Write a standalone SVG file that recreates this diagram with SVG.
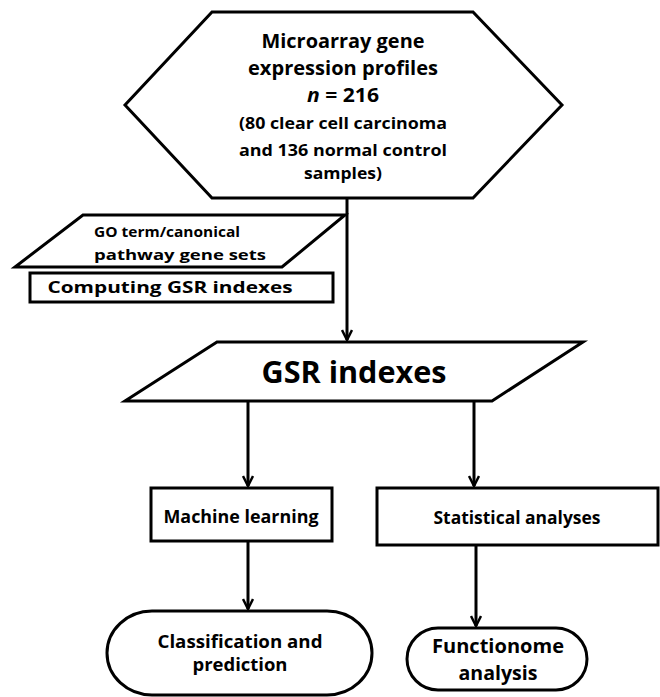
<svg xmlns="http://www.w3.org/2000/svg" width="660" height="697" viewBox="0 0 660 697">
<style>
.s{fill:#fff;stroke:#000;stroke-width:3;stroke-linejoin:miter}
.t{font-family:"Open Sans","Liberation Sans",sans-serif;font-weight:700;fill:#000;text-anchor:middle}
.c{stroke:#000;stroke-width:3;fill:none}
</style>
<defs>
<marker id="ah" viewBox="0 0 12 12" refX="11" refY="6" markerWidth="12" markerHeight="12" markerUnits="userSpaceOnUse" orient="auto">
<path d="M1,1 L11,6 L1,11" fill="none" stroke="#000" stroke-width="2.5"/>
</marker>
</defs>
<rect width="660" height="697" fill="#fff"/>
<g id="connectors">
<line class="c" x1="347" y1="198" x2="347" y2="340" marker-end="url(#ah)"/>
<line class="c" x1="248" y1="401" x2="248" y2="486" marker-end="url(#ah)"/>
<line class="c" x1="474" y1="401" x2="474" y2="486" marker-end="url(#ah)"/>
<line class="c" x1="248" y1="541" x2="248" y2="609" marker-end="url(#ah)"/>
<line class="c" x1="476" y1="545" x2="476" y2="626" marker-end="url(#ah)"/>
</g>
<g id="hexagon">
<polygon class="s" points="212,12 473,12 562,105 473,198 212,198 125,105"/>
<text class="t" x="343" y="48" font-size="19" textLength="163" lengthAdjust="spacingAndGlyphs">Microarray gene</text>
<text class="t" x="343" y="75" font-size="19" textLength="190" lengthAdjust="spacingAndGlyphs">expression profiles</text>
<text class="t" x="343" y="102" font-size="19" textLength="72" lengthAdjust="spacingAndGlyphs"><tspan font-style="italic">n</tspan> = 216</text>
<text class="t" x="343" y="129" font-size="15.5" textLength="208" lengthAdjust="spacingAndGlyphs">(80 clear cell carcinoma</text>
<text class="t" x="343" y="156" font-size="15.5" textLength="208" lengthAdjust="spacingAndGlyphs">and 136 normal control</text>
<text class="t" x="343" y="179" font-size="15.5" textLength="78" lengthAdjust="spacingAndGlyphs">samples)</text>
</g>
<g id="geneSets">
<polygon class="s" points="83,215 345,215 282,267 15,267"/>
<text class="t" x="94" y="237" font-size="14.5" style="text-anchor:start" textLength="146" lengthAdjust="spacingAndGlyphs">GO term/canonical</text>
<text class="t" x="94" y="260" font-size="14.5" style="text-anchor:start" textLength="172" lengthAdjust="spacingAndGlyphs">pathway gene sets</text>
</g>
<g id="computing">
<rect class="s" x="30" y="273" width="303" height="29"/>
<text class="t" x="170" y="293" font-size="16.5" textLength="245" lengthAdjust="spacingAndGlyphs">Computing GSR indexes</text>
</g>
<g id="gsr">
<polygon class="s" points="217,342 583,342 492,401 125,401"/>
<text class="t" x="354" y="383" font-size="30" textLength="185" lengthAdjust="spacingAndGlyphs">GSR indexes</text>
</g>
<g id="ml">
<rect class="s" x="151" y="488" width="181" height="53"/>
<text class="t" x="241" y="523" font-size="17" textLength="155" lengthAdjust="spacingAndGlyphs">Machine learning</text>
</g>
<g id="stat">
<rect class="s" x="377" y="488" width="281" height="57"/>
<text class="t" x="517" y="524" font-size="17" textLength="167" lengthAdjust="spacingAndGlyphs">Statistical analyses</text>
</g>
<g id="classification">
<rect class="s" x="107" y="611" width="265" height="84" rx="45" ry="42"/>
<text class="t" x="240" y="648" font-size="18.5" textLength="165" lengthAdjust="spacingAndGlyphs">Classification and</text>
<text class="t" x="240" y="671" font-size="18.5" textLength="95" lengthAdjust="spacingAndGlyphs">prediction</text>
</g>
<g id="functionome">
<rect class="s" x="407" y="628" width="180" height="62" rx="31" ry="31"/>
<text class="t" x="498" y="653" font-size="20" textLength="132" lengthAdjust="spacingAndGlyphs">Functionome</text>
<text class="t" x="498" y="680" font-size="20" textLength="79" lengthAdjust="spacingAndGlyphs">analysis</text>
</g>
</svg>
